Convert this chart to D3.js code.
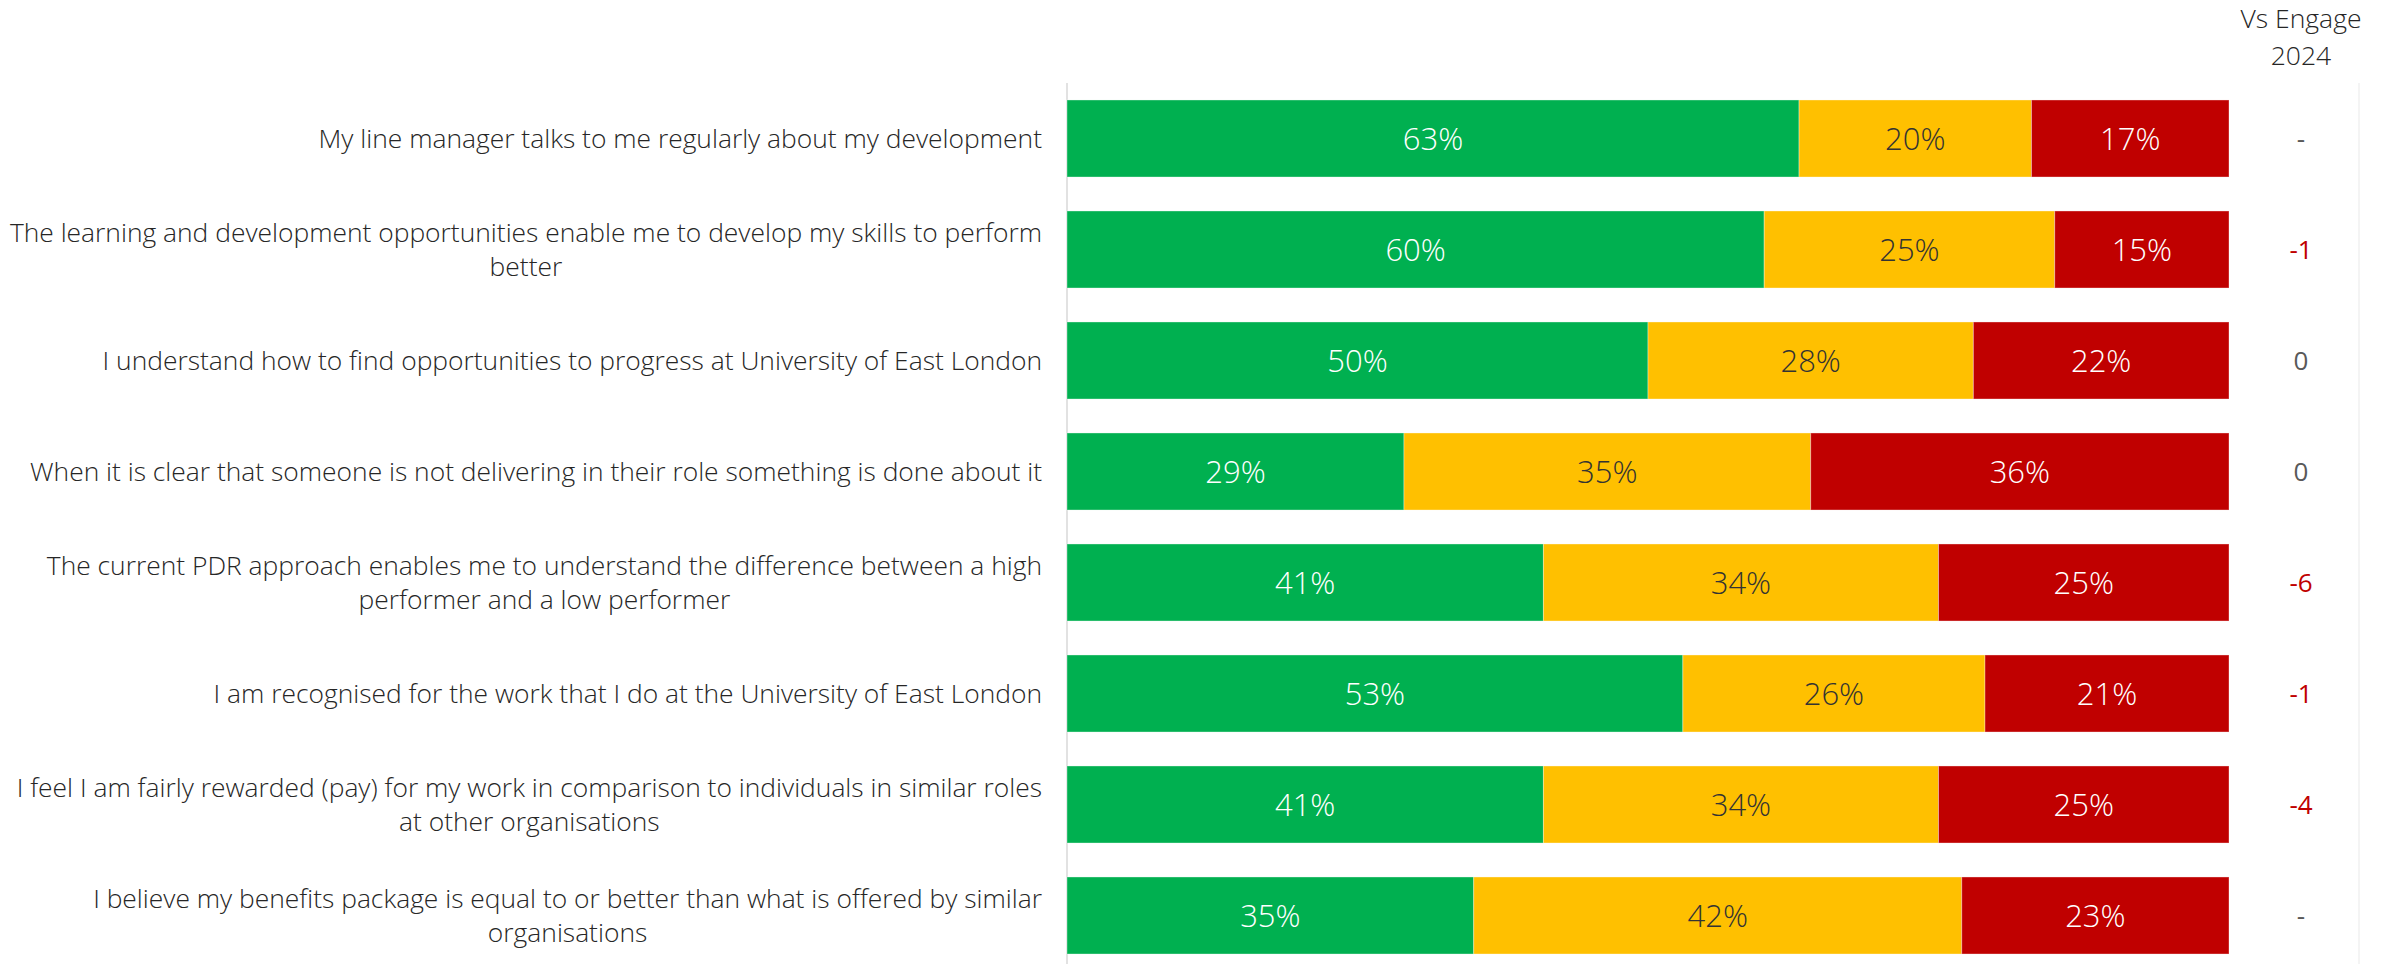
<!DOCTYPE html>
<html>
<head>
<meta charset="utf-8">
<script src="https://cdn.jsdelivr.net/npm/d3@7"></script>
<style>
  body { margin: 0; background: #fff; }
  text { font-family: "Open Sans", "Noto Sans", sans-serif; }
</style>
</head>
<body>
<div id="chart"></div>
<script>
// Data
const categories = [
  ["My line manager talks to me regularly about my development"],
  ["The learning and development opportunities enable me to develop my skills to perform", "better"],
  ["I understand how to find opportunities to progress at University of East London"],
  ["When it is clear that someone is not delivering in their role something is done about it"],
  ["The current PDR approach enables me to understand the difference between a high", "performer and a low performer"],
  ["I am recognised for the work that I do at the University of East London"],
  ["I feel I am fairly rewarded (pay) for my work in comparison to individuals in similar roles", "at other organisations"],
  ["I believe my benefits package is equal to or better than what is offered by similar", "organisations"]
];
const positive = [63, 60, 50, 29, 41, 53, 41, 35];
const neutral  = [20, 25, 28, 35, 34, 26, 34, 42];
const negative = [17, 15, 22, 36, 25, 21, 25, 23];
const vsEngage = ["-", "-1", "0", "0", "-6", "-1", "-4", "-"];
const header = ["Vs Engage", "2024"];

const W = 2400, H = 964;
const colors = ["#00B050", "#FFC000", "#C00000"];
const textColors = ["#ffffff", "#333333", "#ffffff"];

const svg = d3.select("#chart").append("svg")
  .attr("width", W)
  .attr("height", H);

const x = d3.scaleLinear().domain([0, 100]).range([1067, 2229]);
const y = d3.scaleBand()
  .domain(d3.range(categories.length))
  .range([83, 971])
  .paddingInner(0.306)
  .paddingOuter(0.153);

// Axis lines
svg.append("line")
  .attr("x1", 1067).attr("x2", 1067)
  .attr("y1", 83).attr("y2", H)
  .attr("stroke", "#d9d9d9").attr("stroke-width", 1.5);
svg.append("line")
  .attr("x1", 2359).attr("x2", 2359)
  .attr("y1", 83).attr("y2", H)
  .attr("stroke", "#f0f0f0").attr("stroke-width", 1.5);

// Stacked data
const rows = categories.map((c, i) => [positive[i], neutral[i], negative[i]]);

const row = svg.selectAll("g.row")
  .data(rows)
  .join("g")
  .attr("class", "row");

row.each(function(vals, i) {
  const g = d3.select(this);
  let acc = 0;
  vals.forEach((v, k) => {
    const x0 = acc;
    acc += v;
    g.append("rect")
      .attr("x", x(x0))
      .attr("y", y(i))
      .attr("width", x(acc) - x(x0))
      .attr("height", y.bandwidth())
      .attr("fill", colors[k])
      .attr("stroke", "rgba(255,255,255,0.35)")
      .attr("stroke-width", 1);
    g.append("text")
      .attr("x", (x(x0) + x(acc)) / 2)
      .attr("y", y(i) + y.bandwidth() / 2)
      .attr("dy", "0.36em")
      .attr("text-anchor", "middle")
      .attr("font-size", 31)
      .attr("font-weight", 300)
      .attr("fill", textColors[k])
      .text(v + "%");
  });
});

// Category labels: box right aligned, lines centred inside it
const labelRight = 1042;
categories.forEach((lines, i) => {
  const t = svg.append("text")
    .attr("font-size", 26.4)
    .attr("font-weight", 300)
    .attr("fill", "#262626")
    .attr("text-anchor", "middle");
  const lh = 34;
  const cy = y(i) + y.bandwidth() / 2 - (lines.length - 1) * lh / 2;
  const spans = lines.map((l, j) => t.append("tspan")
    .attr("y", cy + j * lh)
    .attr("dy", "0.36em")
    .text(l));
  const maxW = d3.max(spans, s => s.node().getComputedTextLength());
  spans.forEach(s => s.attr("x", labelRight - maxW / 2));
});

// Vs Engage column
svg.selectAll("text.head")
  .data(header)
  .join("text")
  .attr("class", "head")
  .attr("x", 2301)
  .attr("y", (d, i) => 18 + i * 37)
  .attr("dy", "0.36em")
  .attr("text-anchor", "middle")
  .attr("font-size", 26.5)
  .attr("font-weight", 300)
  .attr("fill", "#262626")
  .text(d => d);

svg.selectAll("text.vs")
  .data(vsEngage)
  .join("text")
  .attr("class", "vs")
  .attr("x", 2301)
  .attr("y", (d, i) => y(i) + y.bandwidth() / 2)
  .attr("dy", "0.36em")
  .attr("text-anchor", "middle")
  .attr("font-size", 26)
  .attr("font-weight", 400)
  .attr("fill", d => d.startsWith("-") && d.length > 1 ? "#C00000" : "#595959")
  .text(d => d);
</script>
</body>
</html>
